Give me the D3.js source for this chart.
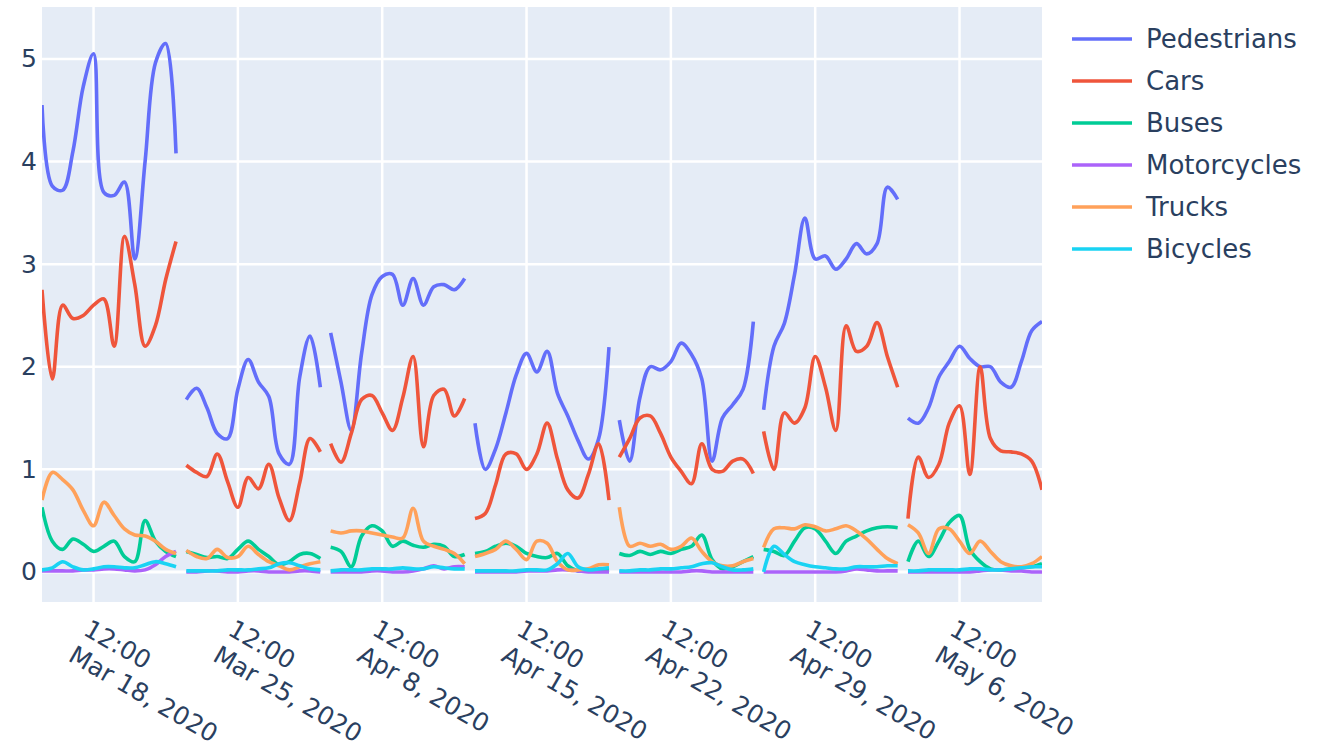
<!DOCTYPE html>
<html>
<head>
<meta charset="utf-8">
<script src="https://cdn.jsdelivr.net/npm/d3@7"></script>
<style>
  body { margin: 0; background: #fff; }
  text { font-family: "DejaVu Sans", Verdana, sans-serif; fill: #2a3f5f; }
</style>
</head>
<body>
<div id="chart"></div>
<script>
// days shown on the axis, one segment per day, readings every hour 7:00..20:00
const days = ["2020-03-18", "2020-03-25", "2020-04-08", "2020-04-15", "2020-04-22", "2020-04-29", "2020-05-06"]
const hours = [7, 8, 9, 10, 11, 12, 13, 14, 15, 16, 17, 18, 19, 20]
const categories = ["Pedestrians", "Cars", "Buses", "Motorcycles", "Trucks", "Bicycles"]
const colors = ["#636efa", "#EF553B", "#00cc96", "#ab63fa", "#FFA15A", "#19d3f3"]
const yTicks = [0, 1, 2, 3, 4, 5]

const pedestrians = [
  [4.55, 3.76, 3.72, 4.1, 4.73, 5.05, 3.7, 3.67, 3.8, 3.05, 4.0, 4.96, 5.15, 4.08],
  [1.68, 1.79, 1.6, 1.35, 1.3, 1.78, 2.07, 1.85, 1.71, 1.15, 1.05, 1.9, 2.3, 1.8],
  [2.33, 1.85, 1.38, 2.13, 2.7, 2.88, 2.9, 2.6, 2.86, 2.6, 2.78, 2.8, 2.75, 2.86],
  [1.45, 1.0, 1.2, 1.55, 1.92, 2.13, 1.95, 2.15, 1.74, 1.52, 1.28, 1.1, 1.3, 2.19],
  [1.48, 1.08, 1.7, 2.0, 1.97, 2.05, 2.23, 2.12, 1.88, 1.08, 1.5, 1.63, 1.78, 2.44],
  [1.58, 2.2, 2.42, 2.9, 3.45, 3.05, 3.08, 2.95, 3.05, 3.2, 3.1, 3.2, 3.75, 3.63],
  [1.5, 1.45, 1.6, 1.9, 2.05, 2.2, 2.08, 2.0, 2.0, 1.85, 1.8, 2.05, 2.35, 2.44]
]
const cars = [
  [2.75, 1.88, 2.6, 2.47, 2.5, 2.6, 2.66, 2.2, 3.27, 2.8, 2.2, 2.4, 2.85, 3.22],
  [1.04, 0.97, 0.93, 1.15, 0.88, 0.63, 0.92, 0.81, 1.05, 0.72, 0.5, 0.87, 1.3, 1.17],
  [1.25, 1.07, 1.35, 1.68, 1.72, 1.55, 1.38, 1.7, 2.1, 1.22, 1.72, 1.78, 1.52, 1.69],
  [0.52, 0.57, 0.85, 1.15, 1.15, 1.0, 1.15, 1.45, 1.1, 0.8, 0.72, 0.95, 1.25, 0.7],
  [1.12, 1.3, 1.5, 1.52, 1.35, 1.12, 0.98, 0.86, 1.25, 1.0, 0.98, 1.08, 1.1, 0.96],
  [1.37, 1.0, 1.55, 1.45, 1.6, 2.1, 1.8, 1.38, 2.4, 2.15, 2.2, 2.43, 2.1, 1.8],
  [0.52, 1.12, 0.92, 1.05, 1.45, 1.62, 0.95, 2.0, 1.3, 1.18, 1.17, 1.15, 1.08, 0.8]
]
const buses = [
  [0.63, 0.3, 0.22, 0.32, 0.27, 0.2, 0.25, 0.3, 0.15, 0.1, 0.5, 0.3, 0.2, 0.15],
  [0.2, 0.17, 0.14, 0.15, 0.13, 0.22, 0.3, 0.22, 0.15, 0.07, 0.1, 0.17, 0.18, 0.13],
  [0.24, 0.2, 0.05, 0.35, 0.45, 0.4, 0.25, 0.3, 0.26, 0.24, 0.27, 0.25, 0.15, 0.17],
  [0.18, 0.2, 0.25, 0.28, 0.25, 0.18, 0.15, 0.14, 0.18, 0.06, 0.01, 0.01, 0.01, 0.02],
  [0.18, 0.16, 0.2, 0.17, 0.2, 0.18, 0.22, 0.25, 0.36, 0.12, 0.03, 0.05, 0.1, 0.15],
  [0.22, 0.2, 0.16, 0.3, 0.43, 0.42, 0.3, 0.18, 0.3, 0.35, 0.4, 0.43, 0.44, 0.43],
  [0.1, 0.3, 0.15, 0.3, 0.48, 0.55, 0.22, 0.1, 0.03, 0.02, 0.03, 0.05, 0.05, 0.08]
]
const motorcycles = [
  [0.01, 0.01, 0.01, 0.01, 0.02, 0.02, 0.03, 0.03, 0.02, 0.01, 0.02, 0.07, 0.15, 0.2],
  [0.0, 0.0, 0.01, 0.01, 0.0, 0.0, 0.01, 0.01, 0.0, 0.0, 0.0, 0.01, 0.01, 0.0],
  [0.0, 0.0, 0.0, 0.0, 0.01, 0.01, 0.0, 0.0, 0.01, 0.03, 0.06, 0.03, 0.05, 0.05],
  [0.0, 0.0, 0.0, 0.0, 0.0, 0.01, 0.01, 0.01, 0.02, 0.02, 0.01, 0.0, 0.0, 0.0],
  [0.0, 0.0, 0.0, 0.0, 0.0, 0.0, 0.0, 0.01, 0.01, 0.0, 0.0, 0.0, 0.0, 0.0],
  [0.0, 0.0, 0.0, 0.0, 0.0, 0.0, 0.0, 0.0, 0.01, 0.03, 0.02, 0.01, 0.01, 0.01],
  [0.0, 0.0, 0.0, 0.0, 0.0, 0.0, 0.0, 0.01, 0.02, 0.02, 0.01, 0.01, 0.0, 0.0]
]
const trucks = [
  [0.7, 0.97, 0.9, 0.8, 0.6, 0.45, 0.68, 0.55, 0.42, 0.36, 0.35, 0.3, 0.22, 0.18],
  [0.21, 0.15, 0.13, 0.22, 0.14, 0.15, 0.25, 0.17, 0.1, 0.06, 0.02, 0.05, 0.08, 0.1],
  [0.4, 0.38, 0.4, 0.4, 0.38, 0.36, 0.34, 0.33, 0.62, 0.3, 0.25, 0.22, 0.18, 0.08],
  [0.15, 0.18, 0.22, 0.3, 0.22, 0.12, 0.3, 0.28, 0.1, 0.02, 0.02, 0.03, 0.07, 0.07],
  [0.63, 0.25, 0.28, 0.25, 0.27, 0.22, 0.25, 0.33, 0.2, 0.1, 0.06, 0.06, 0.1, 0.13],
  [0.24, 0.42, 0.43, 0.42, 0.46, 0.44, 0.4, 0.42, 0.45, 0.4, 0.32, 0.22, 0.13, 0.08],
  [0.46, 0.38, 0.18, 0.42, 0.42, 0.3, 0.18, 0.3, 0.2, 0.1, 0.06, 0.05, 0.08, 0.15]
]
const bicycles = [
  [0.02, 0.04, 0.1, 0.05, 0.02, 0.03, 0.05, 0.05, 0.04, 0.04, 0.07, 0.1, 0.08, 0.05],
  [0.01, 0.01, 0.01, 0.01, 0.02, 0.02, 0.02, 0.03, 0.04, 0.08, 0.09, 0.06, 0.03, 0.02],
  [0.01, 0.02, 0.02, 0.02, 0.03, 0.03, 0.03, 0.04, 0.03, 0.03, 0.05, 0.04, 0.03, 0.03],
  [0.01, 0.01, 0.01, 0.01, 0.01, 0.02, 0.02, 0.02, 0.08, 0.18, 0.05, 0.02, 0.03, 0.04],
  [0.01, 0.01, 0.02, 0.02, 0.03, 0.03, 0.04, 0.05, 0.08, 0.09, 0.05, 0.02, 0.02, 0.03],
  [0.0, 0.25, 0.17, 0.1, 0.07, 0.05, 0.04, 0.03, 0.03, 0.05, 0.05, 0.05, 0.06, 0.06],
  [0.01, 0.01, 0.02, 0.02, 0.02, 0.02, 0.03, 0.03, 0.02, 0.02, 0.03, 0.04, 0.05, 0.05]
]
const seriesValues = [pedestrians, cars, buses, motorcycles, trucks, bicycles]

const width = 1319, height = 749
const margin = {top: 7, right: 277, bottom: 147, left: 42}
const w = width - margin.left - margin.right
const h = height - margin.top - margin.bottom

const parseDay = d3.timeParse("%Y-%m-%d")
const at = (day, hr, min = 0) => { const t = new Date(parseDay(day)); t.setHours(hr, min); return t }

// piecewise time scale: nights and missing days are cut out,
// every day keeps a window of 6:30..20:30 (first/last trimmed to the data)
const xDomain = [], xHours = []
let acc = 0
days.forEach((day, i) => {
  const s = i === 0 ? at(day, 7) : at(day, 6, 30)
  const e = i === days.length - 1 ? at(day, 20) : at(day, 20, 30)
  xDomain.push(s, e)
  xHours.push(acc, acc + (e - s) / 36e5)
  acc += (e - s) / 36e5
})
const x = d3.scaleTime().domain(xDomain).range(xHours.map(v => v * w / acc))
const y = d3.scaleLinear().domain([-0.293, 5.506]).range([h, 0])

const svg = d3.select("#chart").append("svg")
  .attr("width", width)
  .attr("height", height)

const g = svg.append("g").attr("transform", `translate(${margin.left},${margin.top})`)

g.append("rect").attr("width", w).attr("height", h).attr("fill", "#E5ECF6")

const noons = days.map(d => at(d, 12))

// grid
g.append("g").selectAll("line").data(noons).join("line")
  .attr("x1", d => x(d)).attr("x2", d => x(d))
  .attr("y1", 0).attr("y2", h)
  .attr("stroke", "#fff").attr("stroke-width", 2.5)
g.append("g").selectAll("line").data(yTicks).join("line")
  .attr("x1", 0).attr("x2", w)
  .attr("y1", d => y(d)).attr("y2", d => y(d))
  .attr("stroke", "#fff").attr("stroke-width", d => d === 0 ? 3 : 2.5)

// y axis
const yAxis = g.append("g")
  .call(d3.axisLeft(y).tickValues(yTicks).tickFormat(d3.format("d")).tickSize(0).tickPadding(5))
yAxis.select(".domain").remove()
yAxis.selectAll("text").attr("font-size", 25).attr("font-family", null).attr("fill", null)

// x axis, two-line labels turned by 30 degrees
const fmtDay = d3.timeFormat("%b %-d, %Y")
const xAxis = g.append("g")
  .attr("transform", `translate(0,${h})`)
  .call(d3.axisBottom(x).tickValues(noons).tickSize(0).tickFormat(d3.timeFormat("%H:%M")))
xAxis.select(".domain").remove()
xAxis.selectAll(".tick text")
  .attr("font-size", 25).attr("font-family", null).attr("fill", null)
  .attr("text-anchor", "start")
  .attr("x", 0).attr("y", 0).attr("dy", null)
  .attr("transform", "translate(-12,32) rotate(30)")
  .each(function (d) {
    const t = d3.select(this)
    const first = t.text()
    t.text(null)
    t.append("tspan").attr("x", 0).text(first)
    t.append("tspan").attr("x", 0).attr("dy", "1.2em").text(fmtDay(d))
  })

// lines
g.append("clipPath").attr("id", "plot-clip")
  .append("rect").attr("width", w).attr("height", h)

const line = d3.line()
  .x(d => x(d.t))
  .y(d => y(d.v))
  .curve(d3.curveCatmullRom.alpha(0.5))

const lines = g.append("g").attr("clip-path", "url(#plot-clip)")
categories.forEach((cat, ci) => {
  const segs = days.map((day, di) => hours.map((hr, j) => ({t: at(day, hr), v: seriesValues[ci][di][j]})))
  lines.append("g").selectAll("path").data(segs).join("path")
    .attr("d", line)
    .attr("fill", "none")
    .attr("stroke", colors[ci])
    .attr("stroke-width", 3.6)
    .attr("stroke-linejoin", "round")
})

// legend
const legend = svg.append("g").attr("transform", "translate(1072,39)")
const item = legend.selectAll("g").data(categories).join("g")
  .attr("transform", (d, i) => `translate(0,${i * 42})`)
item.append("line")
  .attr("x1", 0).attr("x2", 60)
  .attr("stroke", (d, i) => colors[i])
  .attr("stroke-width", 3.6)
item.append("text")
  .attr("x", 74).attr("dy", "0.36em")
  .attr("font-size", 26)
  .text(d => d)
</script>
</body>
</html>
